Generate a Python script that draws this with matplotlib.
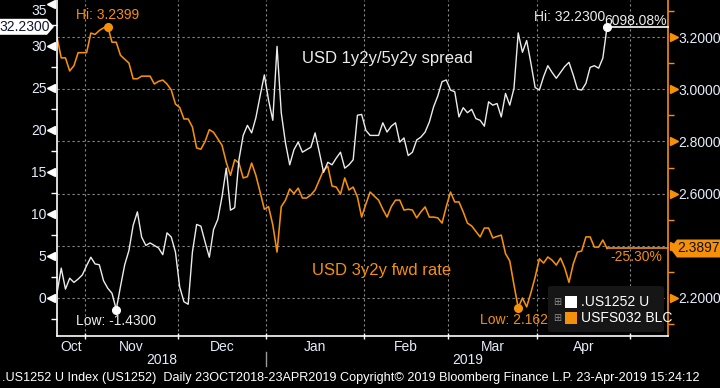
import matplotlib
matplotlib.use("Agg")
import matplotlib.pyplot as plt
import matplotlib.transforms as mtransforms
import numpy as np
import pandas as pd
from matplotlib.patches import FancyBboxPatch, Polygon, Rectangle
from matplotlib.ticker import FixedLocator, MultipleLocator

W, H = 720, 388

# daily (weekday) observations 23-Oct-2018 .. 23-Apr-2019
dates = pd.bdate_range("2018-10-23", "2019-04-23")
axis_days = pd.bdate_range("2018-10-23", "2019-05-31")

# .US1252 U  -> USD 1y2y/5y2y spread (left axis, bp)
spread = [
    0.52, 3.5, 1.0, 2.3, 1.8, 2.2, 2.7, 3.8, 4.8, 4.0,
    3.9, 2.0, 1.1, 0.5, -1.43, 1.3, 3.9, 5.6, 8.6, 10.2,
    7.2, 6.2, 6.5, 6.2, 5.9, 5.1, 7.7, 7.2, 5.4, 1.25,
    -0.5, -0.8, 5.4, 8.7, 8.5, 6.6, 4.8, 8.1, 9.3, 12.0,
    15.4, 10.4, 10.7, 16.4, 19.3, 20.5, 19.6, 21.4, 24.0, 26.5,
    23.5, 21.1, 29.9, 22.0, 18.4, 15.8, 17.6, 18.5, 17.3, 17.6,
    17.9, 19.6, 17.3, 14.9, 16.1, 15.8, 16.6, 17.3, 15.4, 15.8,
    16.4, 21.7, 21.8, 19.9, 19.3, 19.3, 19.3, 20.8, 19.7, 20.4,
    20.8, 18.5, 19.0, 16.9, 17.3, 18.75, 19.1, 19.7, 20.9, 22.7,
    24.0, 25.7, 25.9, 24.7, 24.5, 21.5, 22.6, 22.0, 22.4, 21.3,
    21.1, 20.4, 23.3, 22.9, 23.1, 21.5, 24.3, 22.9, 24.9, 31.5,
    29.2, 30.6, 27.9, 25.0, 24.7, 26.3, 27.6, 26.8, 26.1, 26.8,
    27.5, 28.0, 26.5, 24.8, 24.7, 25.5, 27.4, 27.6, 27.3, 28.5,
    32.23,
]

# USFS032 BLC -> USD 3y2y fwd rate (right axis, %)
fwd = [
    3.199, 3.12, 3.12, 3.07, 3.09, 3.14, 3.14, 3.14, 3.215, 3.21,
    3.225, 3.235, 3.2399, 3.18, 3.18, 3.13, 3.115, 3.10, 3.04, 3.04,
    3.05, 3.05, 3.05, 3.02, 3.03, 3.035, 3.02, 2.997, 2.943, 2.93,
    2.886, 2.886, 2.855, 2.775, 2.77, 2.80, 2.845, 2.835, 2.81, 2.785,
    2.72, 2.67, 2.73, 2.717, 2.66, 2.665, 2.717, 2.67, 2.606, 2.54,
    2.55, 2.48, 2.376, 2.55, 2.575, 2.618, 2.60, 2.621, 2.583, 2.583,
    2.595, 2.614, 2.652, 2.69, 2.705, 2.629, 2.625, 2.598, 2.66, 2.614,
    2.625, 2.587, 2.51, 2.56, 2.606, 2.59, 2.575, 2.54, 2.51, 2.55,
    2.575, 2.575, 2.537, 2.54, 2.537, 2.507, 2.53, 2.549, 2.51, 2.51,
    2.507, 2.487, 2.55, 2.606, 2.568, 2.568, 2.53, 2.487, 2.476, 2.455,
    2.434, 2.468, 2.468, 2.43, 2.436, 2.441, 2.37, 2.342, 2.25, 2.1628,
    2.20, 2.166, 2.22, 2.28, 2.35, 2.334, 2.357, 2.345, 2.326, 2.353,
    2.315, 2.26, 2.33, 2.376, 2.38, 2.434, 2.434, 2.395, 2.395, 2.422,
    2.3897,
]

left_ticks = [0, 5, 10, 15, 20, 25, 30, 35]
right_ticks = [2.2, 2.4, 2.6, 2.8, 3.0, 3.2]
series_names = [".US1252 U", "USFS032 BLC"]
footer = (".US1252 U Index (US1252)  Daily 23OCT2018-23APR2019 Copyright\u00a9 2019 "
          "Bloomberg Finance L.P. 23-Apr-2019 15:24:12")

WHITE = "#ececec"
ORANGE = "#f5900a"
LABEL = "#e4ecfa"
GRID = "#8a8a8a"
FONT = ["Liberation Sans", "DejaVu Sans"]
plt.rcParams["font.family"] = FONT


def fx(px):
    return px / W


def fy(py):
    return 1 - py / H


assert len(spread) == len(dates) == len(fwd)

fig = plt.figure(figsize=(W / 100, H / 100), dpi=100, facecolor="black")
ax = fig.add_axes([fx(57), fy(336), fx(611), 336 / H])
ax2 = ax.twinx()
ax.set_zorder(ax2.get_zorder() + 1)
ax.patch.set_visible(False)
ax2.set_facecolor("black")

idx = np.arange(len(dates))
xmax = 144.4
ax.set_xlim(0, xmax)
ax.set_ylim(-4.58, 35.42)
ax2.set_ylim(2.0544, 3.3418)

# month boundaries and centres on the trading-day axis
months = axis_days.to_period("M")
first = [i for i in range(1, len(axis_days)) if months[i] != months[i - 1]]
bounds = [i - 0.5 for i in first]
edges = [0] + bounds
centres = [(a + b) / 2 for a, b in zip(edges[:-1], edges[1:])]
month_lbl = [axis_days[int(np.ceil(a))].strftime("%b") for a in edges[:-1]]

# grid
for b in bounds:
    ax2.axvline(b, color=GRID, lw=0.8, ls=(0, (2, 2.5)), zorder=0)
for t in right_ticks:
    ax2.axhline(t, color=GRID, lw=0.8, ls=(0, (2, 2.5)), zorder=0)

ax2.plot(idx, fwd, color=ORANGE, lw=1.15, zorder=2)
ax.plot(idx, spread, color=WHITE, lw=1.0, zorder=3)

# spines
for s in ["top", "right"]:
    ax.spines[s].set_visible(False)
for s in ["top", "left", "bottom"]:
    ax2.spines[s].set_visible(False)
ax.spines["left"].set_color("white")
ax.spines["bottom"].set_color("white")
ax.spines["left"].set_linewidth(1.2)
ax.spines["bottom"].set_linewidth(1.2)
ax2.spines["right"].set_color(ORANGE)
ax2.spines["right"].set_linewidth(1.2)

# y axes
ax.set_yticks(left_ticks)
ax.yaxis.set_minor_locator(MultipleLocator(2.5))
ax.tick_params(axis="y", which="major", length=0, pad=7.5, labelsize=10, labelcolor=LABEL)
ax.tick_params(axis="y", which="minor", length=4, width=1, color="white", direction="out")
ax2.set_yticks(right_ticks)
# the last-value tag hides the tick label it sits on
ax2.set_yticklabels(["" if abs(t - fwd[-1]) < 0.03 else f"{t:.4f}" for t in right_ticks])
ax2.yaxis.set_minor_locator(FixedLocator([2.1, 2.3, 2.5, 2.7, 2.9, 3.1, 3.3]))
ax2.tick_params(axis="y", which="major", length=0, pad=7.5, labelsize=10, labelcolor=LABEL)
ax2.tick_params(axis="y", which="minor", length=4, width=1, color=ORANGE, direction="out")

# top label sits just inside the figure, as in the terminal chart
top_lab = ax.yaxis.get_major_ticks()[-1].label1
top_lab.set_transform(top_lab.get_transform()
                      + mtransforms.ScaledTranslation(0, -4 / 72, fig.dpi_scale_trans))

ltr = mtransforms.blended_transform_factory(ax.transAxes, ax.transData)
ax.plot(np.full(len(left_ticks), -6 / 611), left_ticks, marker="<", ms=5.5, ls="none",
        color="white", transform=ltr, clip_on=False)
rtr = mtransforms.blended_transform_factory(ax2.transAxes, ax2.transData)
ax2.plot(np.full(len(right_ticks), 1 + 6 / 611), right_ticks, marker=">", ms=5.5, ls="none",
         color=ORANGE, transform=rtr, clip_on=False)

# x axis
ax.set_xticks(bounds)
ax.set_xticklabels([])
ax.tick_params(axis="x", which="major", length=5, width=1, color="white", direction="inout")
ax.set_xticks(centres, minor=True)
ax.set_xticklabels(month_lbl, minor=True)
ax.tick_params(axis="x", which="minor", length=0, pad=3, labelsize=10, labelcolor=LABEL)

xtr = mtransforms.blended_transform_factory(ax.transData, ax.transAxes)
jan = bounds[month_lbl.index("Jan") - 1]
ax.text(jan / 2, -24 / 336, "2018", transform=xtr, ha="center", va="center",
        color=LABEL, fontsize=10)
ax.text((jan + xmax) / 2, -24 / 336, "2019", transform=xtr, ha="center", va="center",
        color=LABEL, fontsize=10)
ax.plot([jan, jan], [-16 / 336, -30 / 336], color="#9a9a9a", lw=1, transform=xtr, clip_on=False)

# hi / low markers
n = len(dates)
wi_hi, wi_lo = int(np.argmax(spread)), int(np.argmin(spread))
or_hi, or_lo = int(np.argmax(fwd)), int(np.argmin(fwd))
ax.plot([wi_hi, wi_lo], [spread[wi_hi], spread[wi_lo]], "o", ms=5.5, color="white", zorder=5)
ax2.plot([or_hi, or_lo], [fwd[or_hi], fwd[or_lo]], "o", ms=5.5, color=ORANGE, zorder=5)
ax.annotate(f"Hi: {spread[wi_hi]:.4f}", (wi_hi, spread[wi_hi]), xytext=(-1, 7),
            textcoords="offset points", ha="right", va="center", color=WHITE, fontsize=10)
ax.annotate(f"Low: {spread[wi_lo]:.4f}", (wi_lo, spread[wi_lo]), xytext=(0, -8.5),
            textcoords="offset points", ha="center", va="center", color=WHITE, fontsize=10)
ax2.annotate(f"Hi: {fwd[or_hi]:.4f}", (or_hi, fwd[or_hi]), xytext=(0, 8),
             textcoords="offset points", ha="center", va="center", color=ORANGE, fontsize=10)
ax2.annotate(f"Low: {fwd[or_lo]:.4f}", (or_lo, fwd[or_lo]), xytext=(0, -8.5),
             textcoords="offset points", ha="center", va="center", color=ORANGE, fontsize=10)

# last-value lines and change since start
ax.plot([n - 1, xmax], [spread[-1]] * 2, color="white", lw=1.2, clip_on=False)
ax2.plot([n - 1, xmax], [fwd[-1]] * 2, color=ORANGE, lw=1.2, clip_on=False)
chg_w = (spread[-1] / spread[0] - 1) * 100
chg_o = (fwd[-1] / fwd[0] - 1) * 100
ax.annotate(f"{chg_w:.2f}%", (xmax, spread[-1]), xytext=(-1, 4.5), textcoords="offset points",
            ha="right", va="center", color=WHITE, fontsize=10)
ax2.annotate(f"{chg_o:.2f}%", (xmax, fwd[-1]), xytext=(-4, -6), textcoords="offset points",
             ha="right", va="center", color=ORANGE, fontsize=10)

# axis value tags
yl = H - ax.transData.transform((0, spread[-1]))[1]
yr = H - ax2.transData.transform((0, fwd[-1]))[1]
fig.patches.append(Polygon([(fx(0), fy(yl - 8)), (fx(47), fy(yl - 8)), (fx(54), fy(yl)),
                            (fx(47), fy(yl + 8)), (fx(0), fy(yl + 8))],
                           closed=True, transform=fig.transFigure, facecolor="white",
                           edgecolor="none", zorder=5))
fig.text(fx(25), fy(yl), f"{spread[-1]:.4f}", ha="center", va="center", color="#101830",
         fontsize=10, zorder=6)
fig.patches.append(Polygon([(fx(720), fy(yr - 9)), (fx(677), fy(yr - 9)), (fx(670), fy(yr)),
                            (fx(677), fy(yr + 9)), (fx(720), fy(yr + 9))],
                           closed=True, transform=fig.transFigure, facecolor=ORANGE,
                           edgecolor="none", zorder=5))
fig.text(fx(698), fy(yr), f"{fwd[-1]:.4f}", ha="center", va="center", color="#111111",
         fontsize=10, zorder=6)

# series captions
fig.text(fx(302), fy(58), "USD 1y2y/5y2y spread", color=WHITE, fontsize=12, va="center")
fig.text(fx(312), fy(270), "USD 3y2y fwd rate", color=ORANGE, fontsize=12, va="center")

# legend
fig.patches.append(FancyBboxPatch((fx(548), fy(332)), fx(116), 46 / H,
                                  boxstyle="round,pad=0,rounding_size=0.005",
                                  transform=fig.transFigure, facecolor="#161616",
                                  edgecolor="none", zorder=7))
for k, (name, col) in enumerate(zip(series_names, ["white", ORANGE])):
    yc = 302 + 16 * k
    fig.text(fx(557), fy(yc), "\u229e", ha="center", va="center", color="#8a8a8a",
             fontsize=7, family=["DejaVu Sans"], zorder=8)
    fig.patches.append(Rectangle((fx(565), fy(yc + 6)), fx(12), 12 / H, transform=fig.transFigure,
                                 facecolor=col, edgecolor="none", zorder=8))
    fig.text(fx(581), fy(yc), name, ha="left", va="center", color="white", fontsize=10, zorder=8)

fig.text(fx(2), fy(378), footer, ha="left", va="center", color="white", fontsize=9.1)

fig.savefig("out.png", dpi=100, facecolor="black")
